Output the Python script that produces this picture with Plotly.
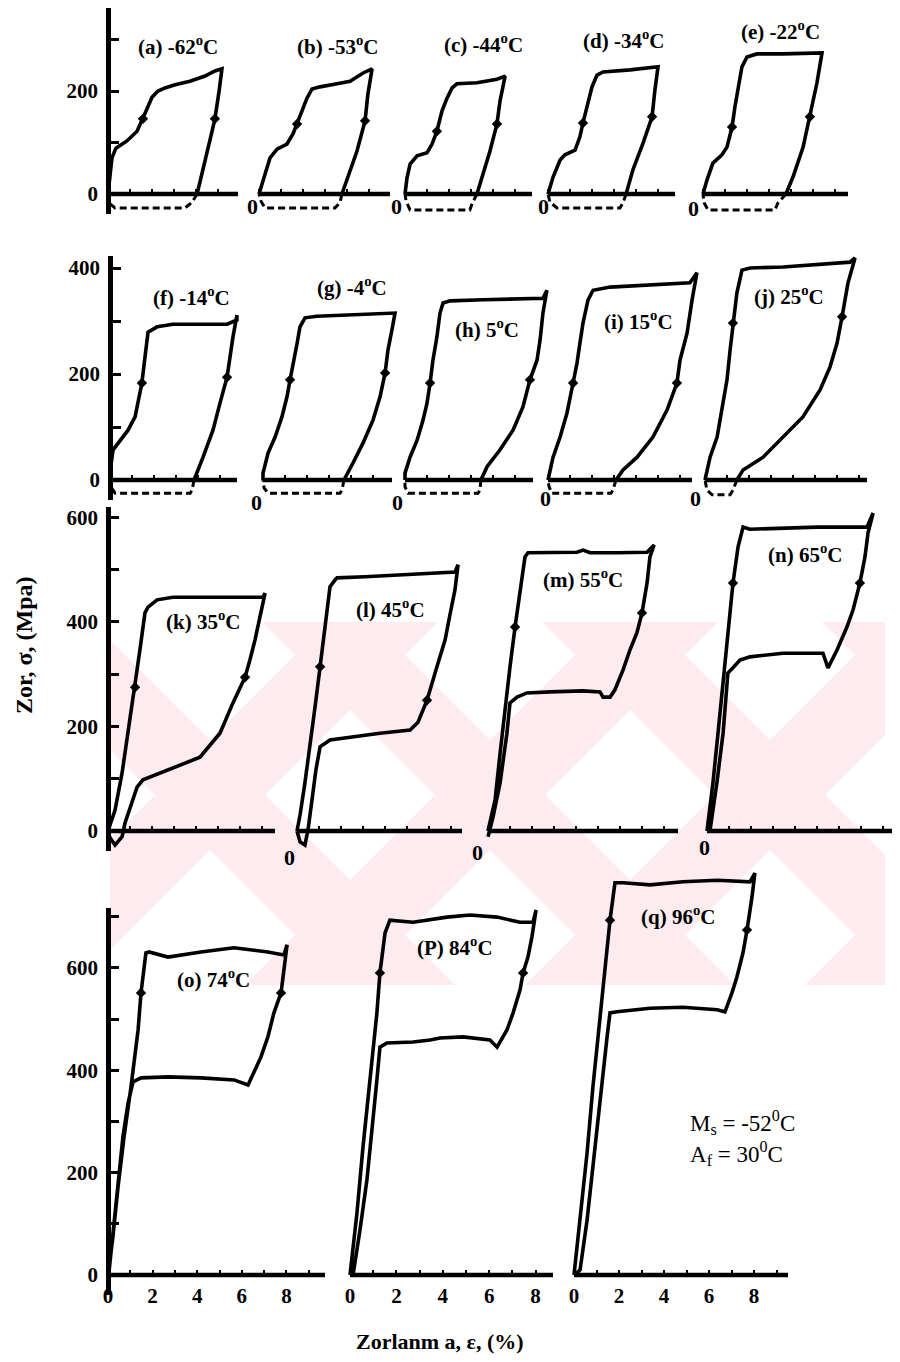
import plotly.graph_objects as go

# ---------------- data (strain %, stress MPa) ----------------
temps = [-62, -53, -44, -34, -22, -14, -4, 5, 15, 25, 35, 45, 55, 65, 74, 84, 96]
letters = ["(a)", "(b)", "(c)", "(d)", "(e)", "(f)", "(g)", "(h)", "(i)", "(j)",
           "(k)", "(l)", "(m)", "(n)", "(o)", "(P)", "(q)"]

a_strain = [0, 0.09, 0.18, 0.36, 0.86, 1.32, 1.59, 1.77, 2.0, 2.27, 2.59, 3.05, 3.73, 4.41, 4.86, 5.18, 5.05, 4.86, 4.68, 4.41, 4.18, 4.05]
a_stress = [0, 35, 70, 89, 103, 122, 146, 165, 188, 200, 206, 212, 219, 229, 239, 243, 200, 146, 113, 64, 25, 0]
a_ret_strain = [4.05, 3.82, 3.5, 0.32, 0.09, 0]
a_ret_stress = [0, -16, -27, -27, -19, 0]

b_strain = [0, 0.27, 0.5, 0.82, 1.27, 1.55, 1.73, 1.95, 2.18, 2.41, 2.77, 3.55, 4.14, 4.73, 5.14, 4.95, 4.82, 4.45, 4.0, 3.77]
b_stress = [0, 39, 70, 87, 97, 117, 136, 161, 186, 204, 208, 214, 219, 235, 243, 194, 142, 83, 31, 0]
b_ret_strain = [3.77, 3.68, 3.45, 0.27, 0.09, 0]
b_ret_stress = [0, -17, -27, -27, -14, 0]

c_strain = [0, 0.09, 0.23, 0.55, 1.0, 1.23, 1.45, 1.68, 1.91, 2.14, 2.36, 3.27, 4.18, 4.55, 4.32, 4.18, 3.86, 3.55, 3.27]
c_stress = [0, 31, 58, 74, 80, 97, 122, 161, 186, 206, 214, 216, 223, 229, 181, 136, 83, 39, 0]
c_ret_strain = [3.27, 3.05, 2.95, 0.23, 0.05, 0]
c_ret_stress = [0, -19, -31, -31, -14, 0]

d_strain = [0, 0.23, 0.55, 0.77, 1.23, 1.45, 1.59, 1.77, 2.0, 2.23, 2.5, 3.73, 4.64, 5.0, 4.86, 4.73, 4.32, 3.86, 3.55]
d_stress = [0, 33, 66, 76, 85, 111, 138, 169, 208, 231, 237, 241, 245, 247, 202, 150, 99, 47, 0]
d_ret_strain = [3.55, 3.41, 3.27, 0.41, 0.09, 0]
d_ret_stress = [0, -17, -27, -27, -16, 0]

e_strain = [0, 0.18, 0.45, 0.86, 1.09, 1.32, 1.45, 1.59, 1.77, 2.0, 2.45, 3.64, 4.86, 5.41, 5.18, 4.86, 4.55, 4.09, 3.77]
e_stress = [0, 27, 60, 76, 91, 130, 169, 208, 247, 266, 272, 272, 274, 274, 216, 150, 91, 33, 0]
e_ret_strain = [3.77, 3.41, 3.27, 0.23, 0.05, 0]
e_ret_stress = [0, -17, -31, -31, -17, 0]

f_strain = [0, 0.05, 0.14, 0.45, 0.82, 1.14, 1.27, 1.45, 1.59, 1.68, 1.73, 2.14, 2.86, 4.09, 5.32, 5.77, 5.77, 5.59, 5.45, 5.32, 5.0, 4.68, 4.23, 3.86, 3.82]
f_stress = [0, 30, 57, 75, 94, 119, 145, 183, 232, 270, 279, 289, 294, 294, 294, 302, 311, 270, 226, 194, 145, 94, 43, 6, 0]
f_ret_strain = [3.82, 3.73, 3.64, 0.23, 0.05, 0]
f_ret_stress = [0, -19, -25, -25, -13, 0]

g_strain = [0, 0, 0.23, 0.55, 0.86, 1.09, 1.23, 1.36, 1.55, 1.68, 1.91, 2.45, 3.95, 5.45, 6.0, 5.86, 5.68, 5.55, 5.32, 5.0, 4.55, 4.09, 3.82, 3.68]
g_stress = [0, 13, 51, 81, 119, 157, 189, 221, 258, 289, 306, 309, 311, 313, 315, 283, 245, 202, 157, 113, 70, 32, 13, 0]
g_ret_strain = [3.68, 3.59, 3.5, 0.23, 0.05, 0]
g_ret_stress = [0, -19, -25, -25, -15, 0]

h_strain = [0, 0, 0.23, 0.55, 0.82, 1.0, 1.14, 1.27, 1.45, 1.59, 1.73, 2.05, 3.55, 5.09, 6.27, 6.45, 6.27, 6.14, 6.0, 5.68, 5.36, 4.91, 4.32, 3.73, 3.45]
h_stress = [0, 13, 43, 75, 113, 145, 183, 226, 270, 315, 334, 338, 340, 342, 343, 358, 315, 264, 226, 189, 138, 94, 57, 25, 0]
h_ret_strain = [3.45, 3.41, 3.32, 0.14, 0, 0]
h_ret_stress = [0, -19, -25, -25, -13, 0]

i_strain = [0, 0.23, 0.55, 0.86, 1.14, 1.32, 1.45, 1.59, 1.82, 2.05, 2.82, 4.64, 6.45, 6.77, 6.55, 6.32, 6.0, 5.86, 5.41, 4.77, 4.05, 3.41, 3.09]
i_stress = [0, 43, 81, 126, 183, 221, 258, 296, 340, 358, 364, 368, 372, 391, 340, 277, 226, 183, 132, 81, 43, 19, 0]
i_ret_strain = [3.09, 2.95, 2.86, 0.18, 0.05, 0]
i_ret_stress = [0, -19, -25, -25, -13, 0]

j_strain = [0, 0.23, 0.55, 0.77, 1.0, 1.14, 1.27, 1.45, 1.68, 2.05, 3.55, 5.09, 6.59, 6.82, 6.5, 6.23, 6.0, 5.68, 5.23, 4.45, 3.55, 2.64, 1.73, 1.45]
j_stress = [0, 43, 81, 132, 189, 245, 296, 353, 396, 400, 402, 406, 411, 419, 372, 308, 258, 213, 170, 119, 81, 43, 19, 0]
j_ret_strain = [1.45, 1.27, 1.14, 0.32, 0.09, 0]
j_ret_stress = [0, -19, -28, -28, -19, 0]

k_strain = [0, 0.32, 0.64, 0.91, 1.23, 1.45, 1.68, 1.82, 2.23, 2.95, 4.18, 5.68, 7.05, 7.14, 6.91, 6.68, 6.45, 6.23, 5.68, 5.09, 4.18, 2.68, 1.59, 1.32, 1.0, 0.77, 0.64, 0.32, 0.09, 0]
k_stress = [0, 40, 111, 187, 275, 346, 417, 428, 442, 447, 447, 447, 447, 455, 409, 365, 327, 294, 245, 187, 141, 117, 98, 84, 46, 15, -11, -27, -13, 0]

l_strain = [0, 0.14, 0.36, 0.59, 0.82, 1.05, 1.27, 1.5, 1.73, 1.82, 3.09, 4.68, 6.05, 7.18, 7.32, 7.18, 6.95, 6.73, 6.36, 5.91, 5.5, 5.14, 3.77, 2.41, 1.5, 1.05, 0.86, 0.68, 0.5, 0.36, 0.14, 0]
l_stress = [0, 31, 92, 161, 237, 314, 390, 467, 480, 484, 486, 489, 493, 495, 509, 461, 413, 365, 314, 250, 208, 193, 187, 180, 174, 161, 117, 59, 2, -27, -21, 0]

m_strain = [0, 0.32, 0.55, 0.77, 1.0, 1.23, 1.45, 1.68, 1.82, 2.82, 4.05, 4.32, 4.64, 5.86, 7.23, 7.55, 7.36, 7.23, 7.0, 6.77, 6.45, 6.14, 5.77, 5.55, 5.23, 5.09, 4.32, 2.82, 1.77, 1.32, 1.0, 0.86, 0.55, 0.23, 0]
m_stress = [0, 59, 149, 237, 314, 390, 455, 524, 532, 532, 533, 537, 532, 532, 533, 547, 524, 474, 417, 379, 346, 308, 270, 256, 256, 266, 268, 266, 264, 256, 245, 187, 92, 27, -11]

n_strain = [0, 0.27, 0.5, 0.73, 0.95, 1.18, 1.41, 1.64, 1.95, 3.45, 5.0, 7.27, 7.55, 7.32, 7.18, 6.95, 6.64, 6.36, 5.91, 5.5, 5.27, 5.0, 3.45, 1.95, 1.5, 1.18, 0.95, 0.73, 0.45, 0.14]
n_stress = [0, 92, 187, 283, 379, 474, 543, 581, 577, 579, 581, 581, 608, 570, 524, 474, 423, 390, 346, 312, 340, 340, 340, 333, 327, 312, 302, 187, 92, 2]

o_strain = [0, 0.22, 0.45, 0.72, 1.03, 1.35, 1.48, 1.7, 1.84, 2.69, 4.17, 5.65, 7.17, 7.89, 8.03, 7.89, 7.76, 7.44, 7.17, 6.86, 6.55, 6.28, 5.65, 4.17, 2.69, 1.48, 1.12, 0.9, 0.67, 0.45, 0.22, 0.04]
o_stress = [0, 74, 172, 270, 367, 479, 551, 629, 631, 621, 631, 639, 631, 625, 645, 596, 551, 512, 465, 426, 395, 371, 381, 385, 387, 385, 377, 336, 270, 172, 74, 4]

p_strain = [0, 0.3, 0.56, 0.86, 1.16, 1.29, 1.51, 1.72, 2.72, 4.18, 5.17, 6.34, 7.33, 7.89, 8.02, 7.84, 7.67, 7.46, 7.33, 7.03, 6.77, 6.34, 6.03, 4.87, 3.88, 3.45, 2.72, 1.59, 1.29, 1.16, 0.95, 0.73, 0.43, 0.13]
p_stress = [0, 121, 250, 381, 512, 590, 668, 693, 689, 699, 703, 699, 689, 689, 713, 660, 621, 590, 557, 512, 479, 445, 459, 465, 463, 459, 455, 453, 445, 381, 283, 186, 88, 0]

q_strain = [0, 0.27, 0.58, 0.84, 1.16, 1.38, 1.6, 1.82, 2.18, 3.38, 4.84, 6.36, 7.82, 8.04, 7.91, 7.69, 7.51, 7.24, 7.02, 6.71, 6.36, 4.84, 3.38, 1.91, 1.6, 1.47, 1.16, 0.84, 0.58, 0.27, 0.04]
q_stress = [0, 107, 238, 367, 498, 596, 693, 766, 766, 762, 768, 771, 768, 785, 738, 674, 629, 582, 551, 514, 518, 523, 521, 514, 512, 465, 336, 205, 107, 10, 0]

# where the small direction arrows sit on each loop (index into the loop arrays)
arrow_load_idx = [6, 6, 6, 6, 5, 7, 6, 6, 4, 6, 4, 5, 5, 5, 6, 5, 6]
arrow_unload_idx = [17, 16, 15, 15, 15, 19, 17, 19, 17, 15, 17, 19, 18, 15, 16, 17, 15]

row_ytick_vals = {1: [0, 100, 200, 300], 2: [0, 100, 200, 300, 400],
                  3: [0, 100, 200, 300, 400, 500, 600], 4: [0, 100, 200, 300, 400, 500, 600, 700]}
row_ytick_text = {1: ["0", "", "200", ""], 2: ["0", "", "200", "", "400"],
                  3: ["0", "", "200", "", "400", "", "600"], 4: ["0", "", "200", "", "400", "", "600", ""]}
xtick_text = ["0", "", "2", "", "4", "", "6", "", "8", ""]

# ---------------- layout (pixel geometry of the page) ----------------
W, H = 900, 1362
OFF = 8                      # page body margin of the html page
FW, FH = W - OFF, H - OFF    # figure size
FONT = "Liberation Serif"


def fx(px):
    return min(1.0, max(0.0, (px - OFF) / FW))


def fy(py):
    return min(1.0, max(0.0, 1 - (py - OFF) / FH))


ROWS = {
    1: dict(base=194, ppy=0.515, top=OFF),
    2: dict(base=480, ppy=0.53, top=256),
    3: dict(base=831, ppy=0.523, top=507),
    4: dict(base=1275, ppy=0.512, top=908),
}

loops = [(a_strain, a_stress), (b_strain, b_stress), (c_strain, c_stress), (d_strain, d_stress),
         (e_strain, e_stress), (f_strain, f_stress), (g_strain, g_stress), (h_strain, h_stress),
         (i_strain, i_stress), (j_strain, j_stress), (k_strain, k_stress), (l_strain, l_stress),
         (m_strain, m_stress), (n_strain, n_stress), (o_strain, o_stress), (p_strain, p_stress),
         (q_strain, q_stress)]
returns = [(a_ret_strain, a_ret_stress), (b_ret_strain, b_ret_stress), (c_ret_strain, c_ret_stress),
           (d_ret_strain, d_ret_stress), (e_ret_strain, e_ret_stress), (f_ret_strain, f_ret_stress),
           (g_ret_strain, g_ret_stress), (h_ret_strain, h_ret_stress), (i_ret_strain, i_ret_stress),
           (j_ret_strain, j_ret_stress)] + [None] * 7

# row, origin px, axis end px, px per %, first-in-row, title centre, "0" label centre
GEOM = [
    (1, 108, 238, 22.0, True, (178, 46), None),
    (1, 259, 390, 22.0, False, (337, 46), (252, 207)),
    (1, 405, 532, 22.0, False, (483, 44), (396, 207)),
    (1, 548, 675, 22.0, False, (623, 40), (543, 207)),
    (1, 703, 848, 22.0, False, (780, 31), (693, 208)),
    (2, 110, 237, 22.0, True, (191, 296), None),
    (2, 263, 392, 22.0, False, (352, 286), (257, 502)),
    (2, 405, 533, 22.0, False, (487, 328), (397, 502)),
    (2, 548, 692, 22.0, False, (638, 321), (545, 498)),
    (2, 705, 867, 22.0, False, (789, 295), (695, 498)),
    (3, 108, 275, 22.0, True, (203, 620), None),
    (3, 297, 462, 22.0, False, (390, 608), (289, 857)),
    (3, 488, 678, 22.0, False, (583, 578), (478, 852)),
    (3, 707, 900, 22.0, False, (805, 553), (704, 847)),
    (4, 108, 325, 22.3, True, (213, 978), None),
    (4, 350, 553, 23.2, False, (455, 946), None),
    (4, 574, 788, 22.5, False, (678, 915), None),
]

fig = go.Figure()
axes = {}
shapes = []
annotations = []


def clip_poly(pts, x0, x1, y0, y1):
    def edge(pts, inside, inter):
        out = []
        for k in range(len(pts)):
            cur, prev = pts[k], pts[k - 1]
            if inside(cur):
                if not inside(prev):
                    out.append(inter(prev, cur))
                out.append(cur)
            elif inside(prev):
                out.append(inter(prev, cur))
        return out

    def ix(xc):
        return lambda p, q: (xc, p[1] + (q[1] - p[1]) * (xc - p[0]) / (q[0] - p[0]))

    def iy(yc):
        return lambda p, q: (p[0] + (q[0] - p[0]) * (yc - p[1]) / (q[1] - p[1]), yc)

    for inside, inter in [(lambda p: p[0] >= x0, ix(x0)), (lambda p: p[0] <= x1, ix(x1)),
                          (lambda p: p[1] >= y0, iy(y0)), (lambda p: p[1] <= y1, iy(y1))]:
        if not pts:
            break
        pts = edge(pts, inside, inter)
    return pts


# faint watermark (pink X pattern)
WM = (110, 885, 622, 985)
cy = 795
for cx in [210, 490, 770, 1050]:
    for sgn in (1, -1):
        hw = 55
        poly = []
        for yy, side in [(WM[2] - 60, -1), (WM[2] - 60, 1), (WM[3] + 60, 1), (WM[3] + 60, -1)]:
            poly.append((cx + sgn * (yy - cy) + side * hw, yy))
        poly = clip_poly(poly, *WM)
        if len(poly) >= 3:
            path = "M " + " L ".join(f"{fx(x):.5f},{fy(y):.5f}" for x, y in poly) + " Z"
            shapes.append(dict(type="path", path=path, xref="paper", yref="paper",
                               fillcolor="#fdebef", line=dict(width=0), layer="below"))

for idx, (geo, loop, ret) in enumerate(zip(GEOM, loops, returns), start=1):
    row, org, end, ppx, first, tpos, zpos = geo
    R = ROWS[row]
    base, ppy = R["base"], R["ppy"]
    xs = list(loop[0]) + (list(ret[0]) if ret else [])
    ys = list(loop[1]) + (list(ret[1]) if ret else [])
    dl = org - 6
    dr = min(W, max(end, org + max(xs) * ppx + 6))
    db = base + 20
    dt = base - max(ys) * ppy - 8
    if first:
        dt = min(dt, R["top"])
    dt = max(dt, OFF)
    sfx = "" if idx == 1 else str(idx)
    end_val = (end - org) / ppx
    xt = [v for v in range(0, 10) if v <= end_val + 0.01]
    xa = dict(domain=[fx(dl), fx(dr)], range=[(dl - org) / ppx, (dr - org) / ppx],
              anchor="free", position=fy(base), showgrid=False, zeroline=False,
              showline=False, ticks="inside", ticklen=5, tickwidth=1.5, tickcolor="black",
              tickvals=xt)
    if row == 4:
        xa.update(showticklabels=True, ticktext=[xtick_text[v] for v in xt],
                  tickfont=dict(family=FONT, size=21, color="black", weight="bold"),
                  ticklabelstandoff=6)
    else:
        xa.update(showticklabels=False)
    ya = dict(domain=[fy(db), fy(dt)], range=[-(db - base) / ppy, (base - dt) / ppy],
              showgrid=False, zeroline=False)
    if first:
        ya.update(anchor="free", position=fx(org), showline=True, linewidth=4.5,
                  linecolor="black", ticks="inside", ticklen=8, tickwidth=3, tickcolor="black",
                  tickvals=row_ytick_vals[row], ticktext=row_ytick_text[row],
                  tickfont=dict(family=FONT, size=21, color="black", weight="bold"),
                  ticklabelstandoff=4)
    else:
        ya.update(anchor="x" + sfx, visible=False)
    axes["xaxis" + sfx] = xa
    axes["yaxis" + sfx] = ya

    fig.add_trace(go.Scatter(x=loop[0], y=loop[1], mode="lines",
                             line=dict(color="black", width=3.6), xaxis="x" + sfx, yaxis="y" + sfx,
                             showlegend=False, hoverinfo="skip"))
    ai, bi = arrow_load_idx[idx - 1], arrow_unload_idx[idx - 1]
    fig.add_trace(go.Scatter(x=[loop[0][ai], loop[0][bi]], y=[loop[1][ai], loop[1][bi]],
                             mode="markers", marker=dict(symbol="diamond", size=8, color="black"),
                             xaxis="x" + sfx, yaxis="y" + sfx, showlegend=False, hoverinfo="skip"))
    if ret:
        fig.add_trace(go.Scatter(x=ret[0], y=ret[1], mode="lines",
                                 line=dict(color="black", width=3, dash="7px,4px"),
                                 xaxis="x" + sfx, yaxis="y" + sfx,
                                 showlegend=False, hoverinfo="skip"))
    shapes.append(dict(type="line", xref="x" + sfx, yref="y" + sfx, x0=0, x1=end_val, y0=0, y1=0,
                       line=dict(color="black", width=4.5)))

    annotations.append(dict(text=f"{letters[idx - 1]} {temps[idx - 1]}<sup>o</sup>C",
                            x=fx(tpos[0]), y=fy(tpos[1]), xref="paper", yref="paper",
                            showarrow=False, xanchor="center", yanchor="middle",
                            font=dict(family=FONT, size=21, color="black", weight="bold")))
    if zpos:
        annotations.append(dict(text="0", x=fx(zpos[0]), y=fy(zpos[1]), xref="paper",
                                yref="paper", showarrow=False, xanchor="center", yanchor="middle",
                                font=dict(family=FONT, size=22, color="black", weight="bold")))

annotations.append(dict(text="Zor, σ, (Mpa)", x=fx(24), y=fy(645), xref="paper", yref="paper",
                        showarrow=False, textangle=-90, xanchor="center", yanchor="middle",
                        font=dict(family=FONT, size=24, color="black", weight="bold")))
annotations.append(dict(text="Zorlanm a, ε, (%)", x=fx(440), y=fy(1341), xref="paper",
                        yref="paper", showarrow=False, xanchor="center", yanchor="middle",
                        font=dict(family=FONT, size=22, color="black", weight="bold")))
annotations.append(dict(text="M<sub>s</sub> = -52<sup>0</sup>C", x=fx(688), y=fy(1122),
                        xref="paper", yref="paper", showarrow=False, xanchor="left",
                        yanchor="middle", font=dict(family=FONT, size=23, color="black")))
annotations.append(dict(text="A<sub>f</sub> = 30<sup>0</sup>C", x=fx(688), y=fy(1153),
                        xref="paper", yref="paper", showarrow=False, xanchor="left",
                        yanchor="middle", font=dict(family=FONT, size=23, color="black")))

fig.update_layout(width=FW, height=FH, margin=dict(l=0, r=0, t=0, b=0),
                  paper_bgcolor="white", plot_bgcolor="rgba(0,0,0,0)",
                  shapes=shapes, annotations=annotations, showlegend=False, **axes)

fig.write_html("out.html")
